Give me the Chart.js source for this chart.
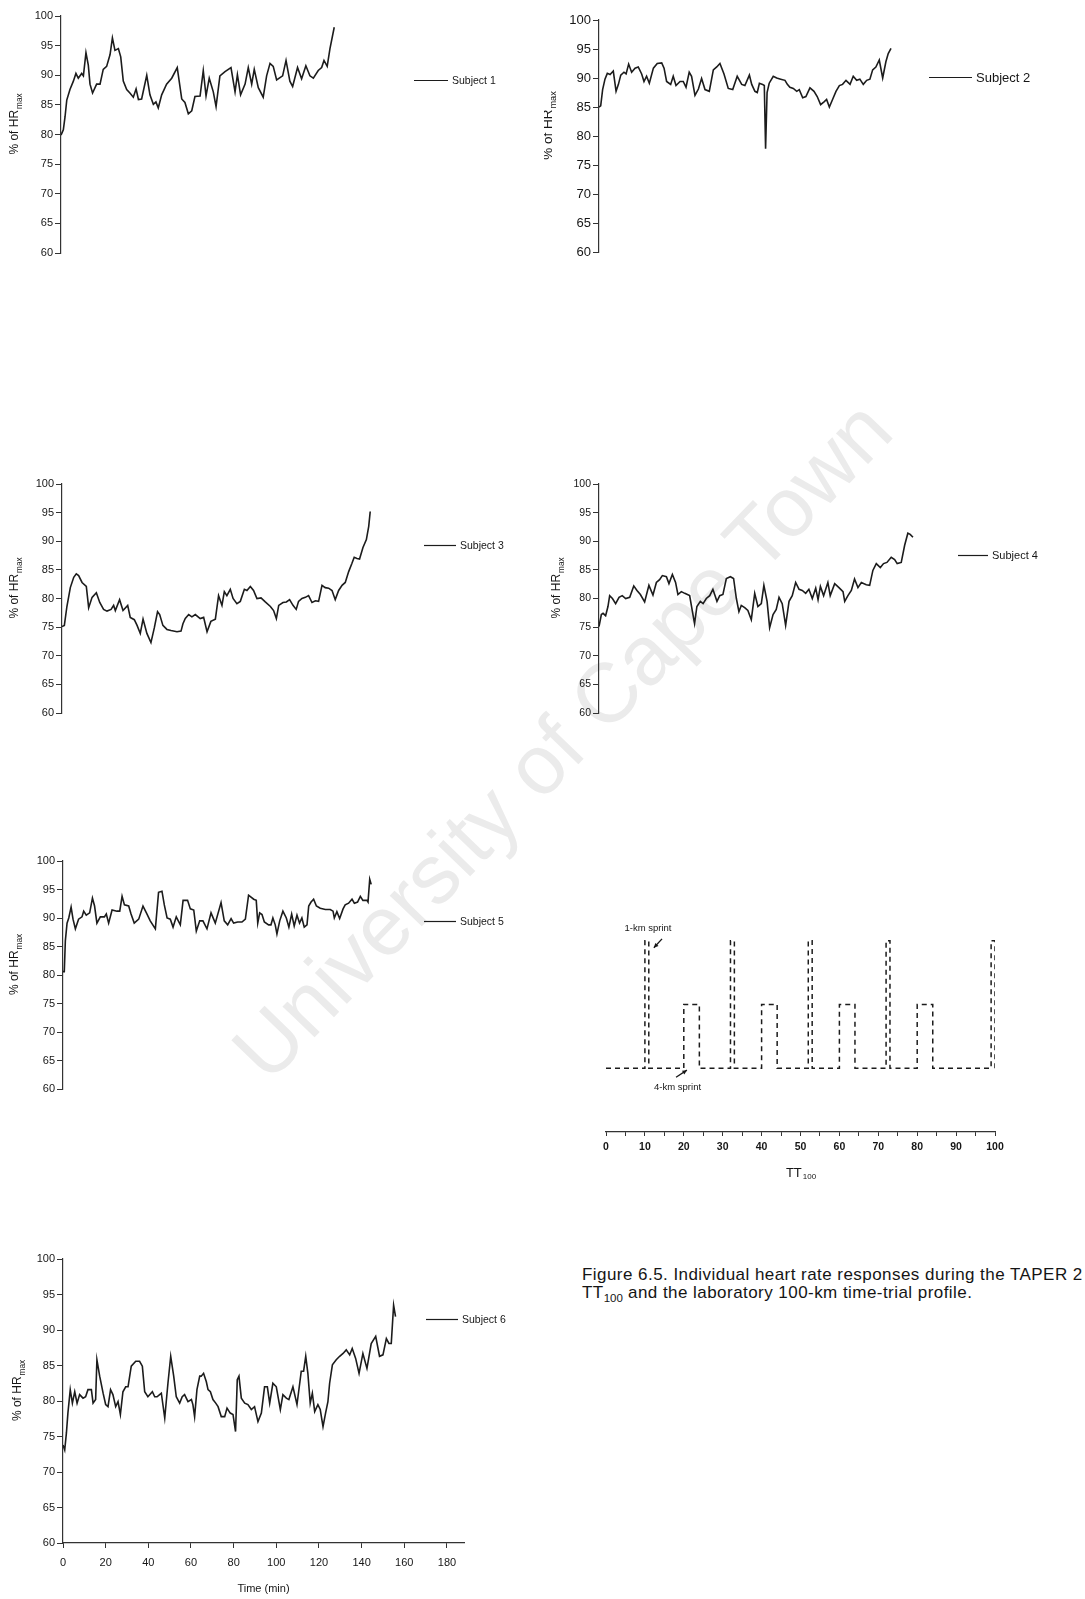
<!DOCTYPE html>
<html>
<head>
<meta charset="utf-8">
<script src="https://cdn.jsdelivr.net/npm/chart.js@4.4.0/dist/chart.umd.min.js"></script>
<style>
  html, body { margin:0; padding:0; background:#fff; }
  body { position:relative; width:1085px; height:1599px; overflow:hidden;
         font-family:"Liberation Sans", Arial, sans-serif; }
  .wm { position:absolute; left:562px; top:740px; white-space:nowrap;
        transform:translate(-50%,-50%) rotate(-46deg); font-size:84px;
        color:#ebebeb; z-index:0; font-family:"Liberation Sans", Arial, sans-serif; }
  .cap { position:absolute; left:582px; top:1266px; font-size:17px; line-height:17.5px;
         letter-spacing:0.45px; color:#151515; z-index:2; white-space:nowrap; }
  .cap sub { font-size:11.5px; vertical-align:-4px; line-height:0; letter-spacing:0; }
  canvas { position:absolute; z-index:1; }
</style>
</head>
<body>
<div class="wm">University of Cape Town</div>
<div class="cap">Figure 6.5. Individual heart rate responses during the TAPER 2<br>TT<sub>100</sub> and the laboratory 100-km time-trial profile.</div>
<script>
// ---- heart-rate data: time (min) and % of HRmax for each rider ----
const s1Time = [0,1.1,1.9,2.7,4.2,5.8,7.0,8.1,9.7,10.5,11.7,12.8,13.6,14.8,16.7,18.3,19.8,21.4,23.0,24.1,25.3,26.9,28.0,29.2,30.8,32.3,33.9,35.2,36.3,37.8,40.2,41.7,43.3,44.5,45.6,47.2,49.5,51.9,54.5,56.6,58.1,59.7,61.3,62.8,65.2,66.7,68.0,69.5,71.4,72.7,74.5,76.9,79.7,81.6,82.7,84.2,86.3,87.8,89.4,90.6,92.5,94.8,96.4,98.0,99.5,101.1,103.9,105.5,107.3,108.6,110.9,112.8,114.8,116.7,118.3,120.6,122.2,123.3,124.8,126.1,128.1];
const s1Hr = [79.9,80.8,83,85.8,87.6,89,90.3,89.5,90.3,89.9,93.8,91.7,88.5,87,88.5,88.5,91,91.5,93.5,96.3,94.2,94.5,93.1,89,87.6,87,86.3,87.7,85.9,86,90,86.7,85.1,85.5,84.5,86.7,88.5,89.5,91.3,86,85.4,83.5,84,86.4,86.5,90.8,86.5,89.5,87.2,84.7,89.9,90.6,91.3,87.2,90.1,86.7,88.5,91.3,88.5,91,87.9,86.3,89.9,92,91.5,89.2,89.9,92.5,89,88.1,91.3,89.4,91.6,89.9,89.5,90.8,91.3,92.5,91.5,94.5,98.1];

const s2Time = [0,0.8,1.7,2.8,3.9,5.2,6.7,8.0,9.1,10.2,11.7,12.7,13.9,15.3,16.9,18.4,20.0,21.1,22.3,23.6,25.5,27.3,29.4,30.5,31.7,33.6,34.8,36.1,38.0,39.5,40.8,42.3,43.4,45.0,46.6,48.1,49.7,51.7,53.6,55.2,56.7,58.6,60.6,62.7,64.8,66.9,68.4,70.5,71.6,73.1,74.2,75.2,76.7,77.5,78.1,78.8,79.8,81.7,83.3,85.2,87.2,88.3,89.5,91.1,92.7,93.9,95.5,97.0,98.9,100.8,102.3,103.9,105.5,106.7,108.0,109.5,111.1,112.7,114.2,115.8,117.7,119.2,120.8,122.3,123.9,125.5,127.0,128.3,129.8,131.4,133.0,134.5,135.6,136.9];
const s2Hr = [85,85.2,88,89.8,90.8,90.6,91.2,87.7,88.9,90.5,91,90.7,92.4,91,91.7,91.9,90.7,89.4,90.3,89.1,91.7,92.5,92.6,91.7,89.4,88.9,90.3,88.7,89.4,89.4,88.4,91,90.3,87,88.1,89.9,88,87.7,91.4,91.9,92.5,90.7,88.2,88,90.3,88.9,88.7,90.5,88.9,87.7,87.5,89.1,88.9,88.7,77.8,87.5,89.1,90.3,90,89.8,89.6,88.9,88.4,88.2,87.7,88,86.6,86.8,88.3,87.7,86.8,85.4,85.9,86.3,85,86.3,87.7,88.7,88.9,89.6,88.9,90.3,89.6,89.8,88.9,89.6,89.8,91.4,91.9,93.1,90,92.8,94.2,95.1];

const s3Time = [0,1.1,2.3,3.9,5.5,6.7,7.8,9.4,11.4,12.5,14.1,16.1,17.7,19.5,21.1,23.0,24.2,25.0,27.0,28.6,30.8,32.0,33.9,35.2,36.7,38.0,39.8,41.7,43.3,44.8,45.8,47.3,49.2,51.1,53.9,55.8,56.7,57.8,59.4,60.9,62.5,64.8,66.4,68.0,69.8,71.9,73.4,75.0,76.1,77.3,78.9,80.2,82.0,83.6,85.5,86.7,88.3,89.8,91.4,93.3,95.3,97.7,99.2,100.5,101.6,103.6,105.2,106.7,108.3,109.8,110.9,112.5,114.1,115.6,117.2,118.8,120.3,121.9,123.4,125.0,126.6,128.1,129.7,131.3,132.8,134.4,135.9,137.0,138.3,139.5,141.1,142.7,143.8,144.5];
const s3Hr = [75.1,75.3,78.6,81.9,83.7,84.3,84,82.8,82.1,78.4,80.2,81,79.3,78.1,77.8,78.1,78.8,77.9,79.8,77.9,78.8,76.7,76.3,75.3,73.9,76.4,73.9,72.3,74.9,77.7,77.2,75.3,74.6,74.4,74.2,74.3,75.6,76.5,77.2,76.8,77.2,76.5,76.7,74.2,76,76.4,80.5,78.8,81.2,80.5,81.6,80,79.1,79.5,81.6,81.4,82.1,81.4,80,80.1,79.4,78.6,77.9,76.5,78.8,79.3,79.4,79.8,78.8,78.1,79.5,80,80.2,80.5,79.3,79.6,79.5,82.3,81.9,81.8,81.4,79.8,81.4,82.3,82.8,84.7,86.1,87.2,87,86.9,88.9,90.3,92.6,95.2];

const s4Time = [0,1.1,1.9,3.1,4.2,5.0,6.3,7.8,9.4,10.9,12.5,14.4,16.3,17.8,19.4,21.4,23.4,25.3,26.9,28.4,29.7,31.6,32.8,34.4,35.9,37.0,38.6,40.2,42.5,43.8,44.8,45.9,47.5,48.8,50.3,51.9,53.4,55.3,56.6,58.1,59.7,61.6,63.1,64.4,65.6,66.7,68.3,69.8,71.4,73.0,74.5,76.1,77.3,78.8,80.0,81.6,83.1,84.4,85.9,87.5,89.1,90.6,92.2,93.8,95.3,96.9,98.4,100.0,101.6,102.7,103.8,105.3,107.3,108.4,110.5,112.5,114.4,115.2,116.7,118.3,119.8,121.4,123.0,125.3,126.9,128.4,130.0,131.9,133.4,135.0,137.0,138.6,139.8,141.7,143.3,144.8,145.9,147.2];
const s4Hr = [75.1,77.2,77.4,77,78.6,80.5,80,79.1,80.2,80.5,80,80.2,82.2,81.4,80.7,79.4,82.3,80.6,82.8,83.3,84,83.8,82.6,84.2,82.8,80.7,81.2,80.9,80.5,77.7,75.6,78.6,79.5,79.1,80,80.5,81.6,79.5,80.5,80.7,83.5,83.8,83.5,80,77.7,78.8,78.4,77.9,76.3,80.9,78.6,79.1,82.3,79.5,74.9,77.2,78.1,80.2,79.1,75.3,79.5,80.5,82.8,81.6,81.4,80.9,81.6,80,81.8,79.8,82.1,80.5,82.8,80.5,82.6,81.9,81.2,79.5,80.5,81.4,83.4,81.9,82.8,82.4,82.3,84.9,86.1,85.4,86.1,86.3,87.2,86.8,86.1,86.3,89.3,91.4,91.2,90.7];

const s5Time = [0,0.6,1.1,1.9,2.7,3.8,4.7,5.8,7.3,8.9,9.7,10.9,12.5,13.8,14.8,15.9,17.5,19.4,20.3,21.4,23.0,25.3,26.6,27.7,28.8,30.8,31.9,33.4,35.5,37.5,39.1,40.9,43.3,44.8,46.4,47.5,48.8,50.3,51.6,53.1,55.0,56.3,58.4,59.7,61.3,62.5,64.1,65.6,67.5,69.4,71.4,74.1,75.6,77.2,78.8,80.0,81.9,83.9,85.5,87.0,89.4,90.6,91.3,92.2,93.3,94.4,96.4,97.5,98.4,99.5,100.3,101.6,103.1,104.7,105.9,107.2,108.4,109.7,110.9,112.0,113.1,114.4,115.2,116.3,117.5,118.8,120.6,123.0,125.3,126.6,127.2,128.4,129.7,131.3,132.3,133.9,135.5,136.6,138.1,139.4,140.6,142.5,143.0,143.8,144.5];
const s5Hr = [80.6,80.6,86,89.1,90,91.9,89.8,88.1,89.8,90.2,91.2,90.5,90.9,93.5,92.1,89.1,90.2,90.2,90.7,89.1,91.4,91.2,91.2,93.8,92.3,92.1,90.7,89.1,89.8,92.1,90.9,89.5,88.1,94.5,94.7,92.3,90,89.8,88.4,90.2,88.8,93.1,93.1,91.6,91.4,87.7,89.5,89.5,88.1,90.9,89.1,92.7,89.5,88.8,89.9,89.1,89.3,89.3,89.8,94,93.3,93.1,89.1,90.9,90.6,89.3,88.8,88.8,90,88.8,87.2,89.5,91.2,90,88.4,90.7,88.6,90.5,89.1,90,88.4,88.8,92.1,92.8,93.3,92.1,91.7,91.5,91.5,91.2,90,91.1,89.9,91.6,92.3,92.6,93.3,92.6,92.8,93.8,93.1,93.1,92.8,96.8,95.9];

const s6Time = [0,0.8,1.6,2.3,3.4,4.4,5.5,6.6,7.8,9.4,10.6,11.7,13.3,14.1,15.3,15.9,17.2,18.8,20.0,21.1,22.3,23.4,24.7,25.8,26.9,28.1,29.4,30.5,32.0,34.1,35.9,37.2,38.3,39.8,41.9,43.0,44.1,45.3,46.1,47.7,49.2,50.5,51.9,53.1,54.7,55.9,57.0,58.6,60.2,60.9,61.7,62.8,64.1,64.8,65.9,67.2,68.0,69.1,70.3,71.6,72.7,74.2,75.8,76.9,78.4,79.7,80.9,81.7,82.5,83.6,85.2,86.7,88.3,89.8,91.4,93.0,94.5,95.8,96.9,98.4,100.0,101.9,103.1,104.7,105.9,107.8,109.7,111.7,112.8,113.8,114.8,115.9,116.9,118.0,119.5,120.6,121.9,123.1,124.2,125.0,126.3,128.1,129.7,131.3,132.8,134.4,135.6,137.2,138.8,140.6,142.5,144.5,146.6,148.4,150.0,151.6,152.8,153.9,155.0,155.9];
const s6Hr = [73.8,73.1,75.5,78.3,81.6,79.7,81.3,79.7,80.9,80.4,80.6,81.6,81.6,79.7,80.2,85.8,83.5,81.1,79.5,79.2,81.6,80.9,79.2,79.9,78.1,81.3,82,82,84.9,85.6,85.6,84.9,81.3,80.6,81.3,80.6,80.6,80.9,81.1,77.6,82.5,86.3,83.5,80.6,79.7,80.6,80.9,79.9,80.2,79.5,77.8,81.6,83.5,83.5,83.9,82.7,81.6,81.3,80.2,79.7,79.2,77.8,77.8,79,78.3,78.1,75.7,83,83.5,80.4,79.7,79.5,78.8,79.2,77.1,78.3,82,82,79.7,82.5,82,78.8,80.9,80.4,80.2,82,79.5,84.2,84.2,86.3,83.9,79.7,81.1,78.5,79.5,78.8,76.4,78.3,79.9,82.5,85.1,85.8,86.3,86.7,87.2,86.5,87.4,86,83.9,86.7,84.6,88.1,89.1,86.3,86.5,88.8,88.1,88.1,93.5,91.9];

const subjectLabels = ['Subject 1','Subject 2','Subject 3','Subject 4','Subject 5','Subject 6'];

// ---- axis ticks ----
const hrTicks = [60,65,70,75,80,85,90,95,100];
const timeTicks = [0,20,40,60,80,100,120,140,160,180];
const kmTicks = [0,5,10,15,20,25,30,35,40,45,50,55,60,65,70,75,80,85,90,95,100];
const kmLabelled = [0,10,20,30,40,50,60,70,80,90,100];

// ---- 100-km time-trial profile: baseline 0, 4-km sprint 1, 1-km sprint 2 ----
const profileKm    = [0,10,10,11,11,20,20,24,24,32,32,33,33,40,40,44,44,52,52,53,53,60,60,64,64,72,72,73,73,80,80,84,84,99,99,100,100];
const profileLevel = [0, 0, 2, 2, 0, 0, 1, 1, 0, 0, 2, 2, 0, 0, 1, 1, 0, 0, 2, 2, 0, 0, 1, 1, 0, 0, 2, 2, 0, 0, 1, 1, 0, 0, 2,  2,  0];

const FONT = '"Liberation Sans", Arial, sans-serif';
const INK = '#161616';
const TIME_MAX = 188;

Chart.defaults.font.family = FONT;
Chart.defaults.color = INK;

// axis title with subscript and a one-line legend next to each trace
const panelDeco = {
  id: 'panelDeco',
  afterDraw(chart, args, o) {
    const ctx = chart.ctx, a = chart.chartArea;
    ctx.save();
    ctx.fillStyle = INK;
    ctx.strokeStyle = INK;
    // rotated "% of HRmax"
    const cx = a.left + o.titleDx, cy = (a.top + a.bottom) / 2 - 10;
    ctx.translate(cx, cy);
    ctx.rotate(-Math.PI / 2);
    ctx.textBaseline = 'middle';
    ctx.textAlign = 'left';
    const big = `${o.titleSize}px ${FONT}`, small = `${(o.titleSize * 0.68).toFixed(1)}px ${FONT}`;
    ctx.font = big;
    const w1 = ctx.measureText(o.yTitle).width;
    ctx.font = small;
    const w2 = ctx.measureText(o.ySub).width;
    const x0 = -(w1 + w2) / 2;
    ctx.font = big;
    ctx.fillText(o.yTitle, x0, 0);
    ctx.font = small;
    ctx.fillText(o.ySub, x0 + w1 + 1, o.titleSize * 0.38);
    ctx.restore();

    // legend
    const ds = chart.data.datasets[0];
    const lx = a.left + o.legDx, ly = a.top + o.legDy;
    ctx.save();
    ctx.strokeStyle = ds.borderColor;
    ctx.lineWidth = 1.2;
    ctx.beginPath();
    ctx.moveTo(lx, ly + 0.5);
    ctx.lineTo(lx + o.legLen, ly + 0.5);
    ctx.stroke();
    ctx.fillStyle = INK;
    ctx.font = `${o.legSize}px ${FONT}`;
    ctx.textBaseline = 'middle';
    ctx.fillText(ds.label, lx + o.legLen + 4, ly + 1);
    ctx.restore();
  }
};

const panels = [
  { time: s1Time, hr: s1Hr, axisX: 61,  top: 16,   bottom: 309,  tick: 11,   titleSize: 12,   titleDx: -46, legDx: 353, legDy: 64, legLen: 34, legSize: 10.5 },
  { time: s2Time, hr: s2Hr, axisX: 599, top: 20,   bottom: 308,  tick: 13,   titleSize: 13.5, titleDx: -51, legDx: 330, legDy: 57, legLen: 43, legSize: 13 },
  { time: s3Time, hr: s3Hr, axisX: 62,  top: 484,  bottom: 769,  tick: 11,   titleSize: 12,   titleDx: -47, legDx: 362, legDy: 61, legLen: 32, legSize: 10.5 },
  { time: s4Time, hr: s4Hr, axisX: 599, top: 484,  bottom: 769,  tick: 10.5, titleSize: 12,   titleDx: -42, legDx: 359, legDy: 71, legLen: 30, legSize: 11 },
  { time: s5Time, hr: s5Hr, axisX: 63,  top: 861,  bottom: 1145, tick: 11,   titleSize: 12,   titleDx: -48, legDx: 361, legDy: 60, legLen: 32, legSize: 10.5 },
  { time: s6Time, hr: s6Hr, axisX: 63,  top: 1259, bottom: 1543, tick: 11,   titleSize: 12,   titleDx: -45, legDx: 363, legDy: 60, legLen: 32, legSize: 10.5, xAxis: true }
];

function makeCanvas(left, top, w, h) {
  const c = document.createElement('canvas');
  c.width = w; c.height = h;
  c.style.left = left + 'px'; c.style.top = top + 'px';
  c.style.width = w + 'px'; c.style.height = h + 'px';
  document.body.appendChild(c);
  return c;
}

const Y_W = 55, PAD_T = 10, PAD_R = 80, X_H = 56;

panels.forEach((p, i) => {
  const plotH = p.bottom - p.top;
  const h = PAD_T + plotH + (p.xAxis ? X_H : 10);
  const canvas = makeCanvas(p.axisX - Y_W, p.top - PAD_T, Y_W + 401 + PAD_R, h);
  new Chart(canvas, {
    type: 'line',
    data: {
      datasets: [{
        label: subjectLabels[i],
        data: p.time.map((t, k) => ({ x: t, y: p.hr[k] })),
        borderColor: '#1c1c1c',
        borderWidth: 1.6,
        pointRadius: 0,
        tension: 0,
        fill: false
      }]
    },
    options: {
      responsive: false,
      animation: false,
      devicePixelRatio: 1,
      layout: { padding: { left: 0, top: PAD_T, right: PAD_R, bottom: p.xAxis ? 0 : 10 } },
      plugins: {
        legend: { display: false },
        tooltip: { enabled: false },
        panelDeco: { yTitle: '% of HR', ySub: 'max', titleSize: p.titleSize, titleDx: p.titleDx,
                     legDx: p.legDx, legDy: p.legDy, legLen: p.legLen, legSize: p.legSize }
      },
      scales: {
        x: {
          type: 'linear',
          min: 0, max: TIME_MAX,
          display: !!p.xAxis,
          afterBuildTicks: s => { s.ticks = timeTicks.map(v => ({ value: v })); },
          afterFit: s => { s.height = X_H; },
          ticks: { font: { size: 11 }, color: INK, padding: 8, maxRotation: 0 },
          grid: { drawOnChartArea: false, drawTicks: true, tickLength: 5, color: '#333' },
          border: { display: true, color: '#333', width: 1.2 },
          title: { display: true, text: 'Time (min)', font: { size: 11 }, color: INK, padding: { top: 4, bottom: 3 } }
        },
        y: {
          type: 'linear',
          min: 60, max: 100,
          afterBuildTicks: s => { s.ticks = hrTicks.map(v => ({ value: v })); },
          afterFit: s => { s.width = Y_W; },
          ticks: { font: { size: p.tick }, color: INK, padding: 2 },
          grid: { drawOnChartArea: false, drawTicks: true, tickLength: 6, color: '#333' },
          border: { display: true, color: '#333', width: 1.2 }
        }
      }
    },
    plugins: [panelDeco]
  });
});

// ---- profile chart annotations ----
const sprintNotes = {
  id: 'sprintNotes',
  afterDraw(chart, args, o) {
    const ctx = chart.ctx, xs = chart.scales.x, ys = chart.scales.y, a = chart.chartArea;
    ctx.save();
    ctx.fillStyle = INK;
    ctx.strokeStyle = INK;
    ctx.textAlign = 'center';
    ctx.textBaseline = 'middle';
    ctx.font = `9.5px ${FONT}`;
    o.notes.forEach(n => {
      ctx.fillText(n.text, xs.getPixelForValue(n.at[0]), ys.getPixelForValue(n.at[1]));
      const x1 = xs.getPixelForValue(n.from[0]), y1 = ys.getPixelForValue(n.from[1]);
      const x2 = xs.getPixelForValue(n.to[0]), y2 = ys.getPixelForValue(n.to[1]);
      ctx.lineWidth = 1.3;
      ctx.beginPath(); ctx.moveTo(x1, y1); ctx.lineTo(x2, y2); ctx.stroke();
      const ang = Math.atan2(y2 - y1, x2 - x1), L = 5;
      ctx.beginPath();
      ctx.moveTo(x2, y2);
      ctx.lineTo(x2 - L * Math.cos(ang - 0.45), y2 - L * Math.sin(ang - 0.45));
      ctx.lineTo(x2 - L * Math.cos(ang + 0.45), y2 - L * Math.sin(ang + 0.45));
      ctx.closePath(); ctx.fill();
    });
    // axis title TT with subscript 100
    const tx = (a.left + a.right) / 2, ty = a.bottom + 41;
    ctx.textAlign = 'left';
    ctx.font = `13px ${FONT}`;
    const w1 = ctx.measureText('TT').width;
    ctx.font = `8px ${FONT}`;
    const w2 = ctx.measureText('100').width;
    const x0 = tx - (w1 + w2) / 2;
    ctx.font = `13px ${FONT}`;
    ctx.fillText('TT', x0, ty);
    ctx.font = `8px ${FONT}`;
    ctx.fillText('100', x0 + w1 + 1, ty + 4);
    ctx.restore();
  }
};

const profCanvas = makeCanvas(586, 918, 429, 10 + 204 + 55);
new Chart(profCanvas, {
  type: 'line',
  data: {
    datasets: [{
      label: 'Profile',
      data: profileKm.map((k, i) => ({ x: k, y: profileLevel[i] })),
      borderColor: '#1c1c1c',
      borderWidth: 1.5,
      borderDash: [5, 4],
      pointRadius: 0,
      tension: 0,
      fill: false
    }]
  },
  options: {
    responsive: false,
    animation: false,
    devicePixelRatio: 1,
    layout: { padding: { left: 20, top: 10, right: 20, bottom: 0 } },
    plugins: {
      legend: { display: false },
      tooltip: { enabled: false },
      sprintNotes: {
        notes: [
          { text: '1-km sprint', at: [10.8, 2.19], from: [14.4, 2.03], to: [12.3, 1.89] },
          { text: '4-km sprint', at: [18.4, -0.30], from: [18.0, -0.14], to: [20.8, -0.03] }
        ]
      }
    },
    scales: {
      x: {
        type: 'linear', min: 0, max: 100,
        afterBuildTicks: s => { s.ticks = kmTicks.map(v => ({ value: v })); },
        afterFit: s => { s.height = 55; },
        ticks: {
          font: { size: 10.5, weight: 'bold' }, color: INK, padding: 5, maxRotation: 0, autoSkip: false,
          callback: v => kmLabelled.includes(v) ? String(v) : ''
        },
        grid: { drawOnChartArea: false, drawTicks: true, tickLength: 4, color: '#333' },
        border: { display: true, color: '#333', width: 1.2 }
      },
      y: { type: 'linear', min: -1, max: 2.2, display: false }
    }
  },
  plugins: [sprintNotes]
});
</script>
</body>
</html>
